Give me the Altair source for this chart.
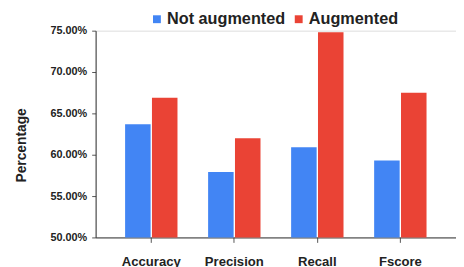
import altair as alt
import pandas as pd

categories = ["Accuracy", "Precision", "Recall", "Fscore"]
series = ["Not augmented", "Augmented"]
not_augmented = [0.637, 0.579, 0.609, 0.593]
augmented = [0.669, 0.620, 0.748, 0.675]
y_ticks = [0.50, 0.55, 0.60, 0.65, 0.70, 0.75]

rows = []
for c, a, b in zip(categories, not_augmented, augmented):
    rows.append({"metric": c, "series": series[0], "value": a})
    rows.append({"metric": c, "series": series[1], "value": b})
df = pd.DataFrame(rows)

FONT = "Liberation Sans"

chart = alt.Chart(df).mark_bar(clip=True).encode(
    x=alt.X("metric:N", sort=categories, title=None,
            scale=alt.Scale(paddingInner=0.369, paddingOuter=0.355),
            axis=alt.Axis(labelAngle=0, labelFont=FONT, labelFontSize=13.3,
                          labelFontWeight="bold", labelColor="#222222",
                          labelPadding=12, tickSize=5, tickColor="#555555",
                          domainColor="#333333", domainWidth=1)),
    xOffset=alt.XOffset("series:N", sort=series,
                        scale=alt.Scale(paddingInner=0.05)),
    y=alt.Y("value:Q", title="Percentage",
            scale=alt.Scale(domain=[0.5, 0.75], nice=False, zero=False),
            axis=alt.Axis(values=y_ticks, format=".2%", grid=False,
                          labelFont=FONT, labelFontSize=11, labelFontWeight="bold",
                          labelColor="#222222", labelPadding=5, tickSize=4,
                          tickColor="#555555", domainColor="#333333",
                          titleFont=FONT, titleFontSize=14, titleFontWeight="bold",
                          titleColor="#222222", titlePadding=22, titleY=116)),
    color=alt.Color("series:N", sort=series,
                    scale=alt.Scale(domain=series, range=["#4285F4", "#EA4335"]),
                    legend=alt.Legend(title=None, orient="none", direction="horizontal",
                                      legendX=54, legendY=-20, padding=0,
                                      symbolType="square", symbolSize=64,
                                      symbolStrokeWidth=0,
                                      labelFont=FONT, labelFontSize=16.5,
                                      labelFontWeight="bold", labelColor="#222222",
                                      labelOffset=2, columnPadding=5)),
).properties(
    width=366,
    height=210,
    autosize=alt.AutoSizeParams(type="none"),
    padding={"left": 89, "top": 21, "right": 0, "bottom": 28},
).configure_view(stroke=None).configure(background="white")

chart.save("out.html", embed_options={"renderer": "svg", "actions": False})
